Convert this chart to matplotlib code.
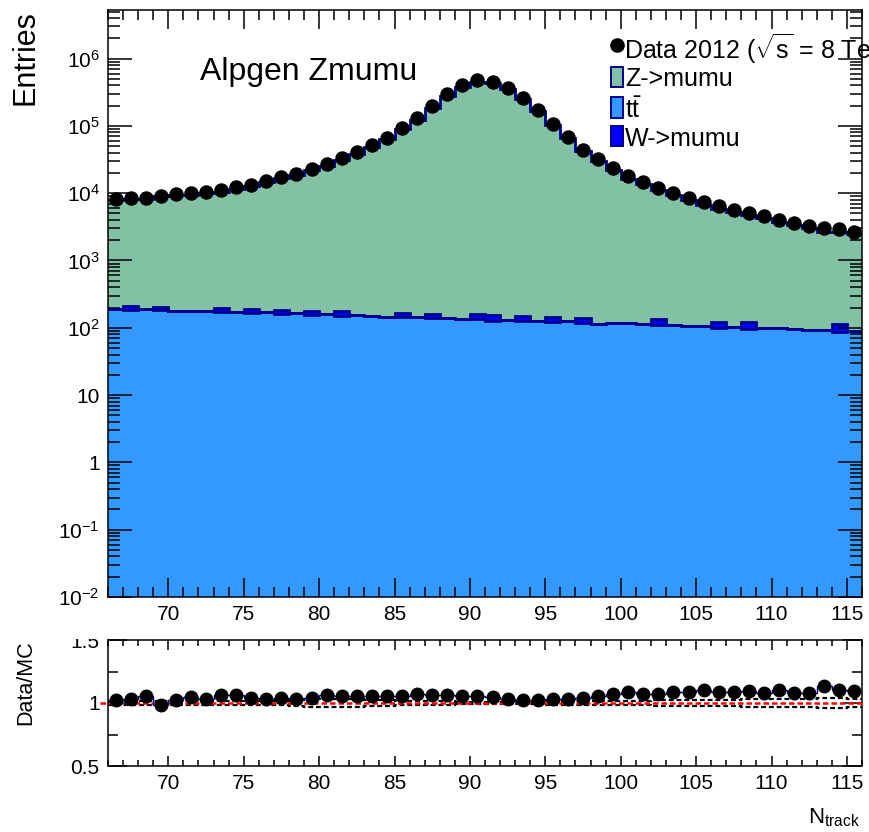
import numpy as np
import matplotlib
matplotlib.use("Agg")
import matplotlib.pyplot as plt
from matplotlib.ticker import FixedLocator, FuncFormatter, MultipleLocator, NullFormatter
from matplotlib.patches import Rectangle
from matplotlib.lines import Line2D
from matplotlib.transforms import Bbox, TransformedBbox

plt.rcParams['font.family'] = ['Liberation Sans', 'DejaVu Sans']
plt.rcParams['mathtext.fontset'] = 'custom'
plt.rcParams['mathtext.rm'] = 'Liberation Sans'
plt.rcParams['mathtext.it'] = 'Liberation Sans:italic'
plt.rcParams['mathtext.bf'] = 'Liberation Sans:bold'

# ---- histogram content (N_track bins of width 1, 66 .. 116) ----
bin_edges = np.arange(66, 117, 1)

data_counts = [8150, 8500, 8600, 9020, 9570, 9900, 10460, 11200, 12280, 13460,
               15070, 17290, 19360, 22740, 27250, 32800, 40700, 51640, 66340, 93400,
               131500, 196300, 293000, 398500, 473000, 451000, 367000, 258000, 169400, 107200,
               67900, 44570, 31690, 23770, 17900, 14730, 11990, 10100, 8510, 7350,
               6410, 5720, 5100, 4550, 4065, 3620, 3235, 3050, 2890, 2660]

zmumu = [7790, 8027, 7977, 8932, 9149, 9271, 9958, 10313, 11348, 12751,
         14434, 16438, 18595, 21686, 25404, 30974, 38498, 48891, 62854, 88531,
         122635, 183983, 274719, 378307, 449034, 430191, 355488, 251312, 165788, 103730,
         65670, 42714, 29980, 22014, 16380, 13600, 11030, 9198, 7735, 6570,
         5784, 5169, 4544, 4117, 3577, 3260, 2905, 2586, 2500, 2344]

ttbar = [193, 184, 190, 182, 178, 176, 178, 169, 172, 166,
         169, 162, 165, 154, 159, 150, 153, 150, 147, 143,
         147, 138, 140, 136, 134, 128, 132, 125, 128, 121,
         125, 117, 115, 118, 118, 115, 109, 111, 108, 106,
         99, 103, 97, 100, 98, 95, 93, 94, 88, 90]

wmumu = [0, 25, 0, 25, 0, 0, 0, 25, 0, 25,
         0, 25, 0, 25, 0, 25, 0, 0, 0, 25,
         0, 25, 0, 0, 25, 25, 0, 25, 0, 25,
         0, 25, 0, 0, 0, 0, 25, 0, 0, 0,
         25, 0, 25, 0, 0, 0, 0, 0, 25, 0]

# relative MC uncertainty shown as dashed band in the ratio panel
mc_rel_err = [0.012, 0.012, 0.015, 0.015, 0.015, 0.015, 0.015, 0.015, 0.015, 0.015,
              0.015, 0.015, 0.02, 0.03, 0.03, 0.03, 0.03, 0.025, 0.02, 0.015,
              0.012, 0.012, 0.012, 0.01, 0.01, 0.01, 0.01, 0.01, 0.01, 0.012,
              0.012, 0.015, 0.015, 0.015, 0.015, 0.015, 0.02, 0.02, 0.02, 0.02,
              0.02, 0.02, 0.03, 0.03, 0.03, 0.03, 0.03, 0.04, 0.04, 0.035]

data = np.array(data_counts, dtype=float)
z = np.array(zmumu, dtype=float)
tt = np.array(ttbar, dtype=float)
w = np.array(wmumu, dtype=float)
err = np.array(mc_rel_err)
mc_total = z + tt + w
ratio = data / mc_total
centers = 0.5 * (bin_edges[:-1] + bin_edges[1:])

C_Z = '#83c1a5'
C_TT = '#3399ff'
C_W = '#0000ff'
C_LINE = '#00008f'

W_PX, H_PX = 869, 832
def fx(x):
    return x / W_PX
def fy(y):
    return 1 - y / H_PX

fig = plt.figure(figsize=(W_PX / 100, H_PX / 100), dpi=100)
ax = fig.add_axes([fx(108), fy(597), fx(862) - fx(108), fy(10) - fy(597)])
rax = fig.add_axes([fx(108), fy(766), fx(862) - fx(108), fy(640) - fy(766)])

# ---- stacked MC ----
floor = 1e-3
ax.stairs(tt, bin_edges, baseline=floor, fill=True, color=C_TT, lw=0, zorder=1)
ax.stairs(tt + w, bin_edges, baseline=tt, fill=True, color=C_W, lw=0, zorder=1)
ax.stairs(mc_total, bin_edges, baseline=tt + w, fill=True, color=C_Z, lw=0, zorder=1)
for top in (mc_total, tt + w, tt):
    ax.stairs(top, bin_edges, baseline=None, color=C_LINE, lw=2.0, zorder=2)

ax.plot(centers, data, 'o', color='black', ms=9.4, zorder=5)

ax.set_yscale('log')
ax.set_xlim(66, 116)
ax.set_ylim(1e-2, 10 ** 6.722)

decades = [1e-2, 1e-1, 1, 10, 1e2, 1e3, 1e4, 1e5, 1e6]
dec_labels = {-2: r'$10^{\mathdefault{-2}}$', -1: r'$10^{\mathdefault{-1}}$', 0: '1', 1: '10',
              2: r'$10^{2}$', 3: r'$10^{3}$', 4: r'$10^{4}$',
              5: r'$10^{5}$', 6: r'$10^{6}$'}
ax.yaxis.set_major_locator(FixedLocator(decades))
ax.yaxis.set_major_formatter(FuncFormatter(lambda v, p: dec_labels[int(round(np.log10(v)))]))
minors = [m * 10.0 ** k for k in range(-2, 7) for m in range(2, 10)]
ax.yaxis.set_minor_locator(FixedLocator(minors))
ax.yaxis.set_minor_formatter(NullFormatter())
ax.xaxis.set_major_locator(MultipleLocator(5))
ax.xaxis.set_minor_locator(MultipleLocator(1))

ax.tick_params(which='both', direction='in', top=True, right=True, width=1.1,
               labelsize=15, colors='black')
ax.tick_params(axis='x', which='major', length=14, pad=6)
ax.tick_params(axis='x', which='minor', length=7)
ax.tick_params(axis='y', which='major', length=17, pad=6)
ax.tick_params(axis='y', which='minor', length=8.5)
for s in ax.spines.values():
    s.set_linewidth(1.1)

# ---- ratio panel ----
rax.stairs(1 + err, bin_edges, baseline=None, color='black', ls=(0, (2.2, 1.3)), lw=1.6, zorder=2)
rax.stairs(1 - err, bin_edges, baseline=None, color='black', ls=(0, (2.2, 1.3)), lw=1.6, zorder=2)
rax.plot([65.5, 116], [1, 1], color='red', ls=(0, (2.2, 1.2)), lw=1.8, clip_on=False, zorder=3)
rax.stairs(ratio, bin_edges, baseline=None, color='#0000aa', lw=1.0, zorder=4)
rax.plot(centers, ratio, 'o', color='black', ms=9.0, zorder=5)

rax.set_xlim(66, 116)
rax.set_ylim(0.5, 1.5)
rax.yaxis.set_major_locator(FixedLocator([0.5, 1.0, 1.5]))
rax.yaxis.set_major_formatter(FuncFormatter(lambda v, p: {0.5: '0.5', 1.0: '1', 1.5: '1.5'}[round(v, 2)]))
rax.yaxis.set_minor_locator(FixedLocator([0.75, 1.25]))
rax.xaxis.set_major_locator(MultipleLocator(5))
rax.xaxis.set_minor_locator(MultipleLocator(1))
rax.tick_params(which='both', direction='in', top=True, right=True, width=1.1,
                labelsize=15, colors='black')
rax.tick_params(axis='x', which='major', length=7.5, pad=6)
rax.tick_params(axis='x', which='minor', length=4)
rax.tick_params(axis='y', which='major', length=14, pad=6)
rax.tick_params(axis='y', which='minor', length=7.5)
for s in rax.spines.values():
    s.set_linewidth(1.1)

# the upper ratio label sits on the pad border and is cut there
clip = TransformedBbox(Bbox.from_extents(0, 0, 1, fy(639)), fig.transFigure)
for t in rax.yaxis.get_major_ticks():
    t.label1.set_clip_box(clip)
    t.label1.set_clip_on(True)

# ---- axis titles ----
fig.text(fx(26), fy(10), 'Entries', rotation=90, ha='center', va='top', fontsize=22)
fig.text(fx(26), fy(640), 'Data/MC', rotation=90, ha='center', va='top', fontsize=15.5)
fig.text(fx(860), fy(823), r'N$_{\mathrm{track}}$', ha='right', va='baseline', fontsize=16)

fig.text(fx(200), fy(80), 'Alpgen Zmumu', ha='left', va='baseline', fontsize=23)

# ---- legend ----
leg_fs = 18
fig.add_artist(Line2D([fx(617)], [fy(45)], marker='o', color='black', ms=9.5,
                      transform=fig.transFigure))
fig.text(fx(624), fy(45), r'Data 2012 ($\sqrt{\mathrm{s}}$ = 8 TeV)', ha='left',
         va='center_baseline', fontsize=leg_fs)
leg_rows = [(77, C_Z, 'Z->mumu'), (107.5, C_TT, r'$\mathrm{t\bar{t}}$'), (136, C_W, 'W->mumu')]
for yc, col, lab in leg_rows:
    fig.add_artist(Rectangle((fx(611), fy(yc + 10)), fx(623) - fx(611), fy(yc - 10) - fy(yc + 10),
                             facecolor=col, edgecolor=C_LINE, lw=1.4, transform=fig.transFigure))
    fig.text(fx(625), fy(yc), lab, ha='left', va='center_baseline', fontsize=leg_fs)

fig.savefig('out.png', dpi=100)
